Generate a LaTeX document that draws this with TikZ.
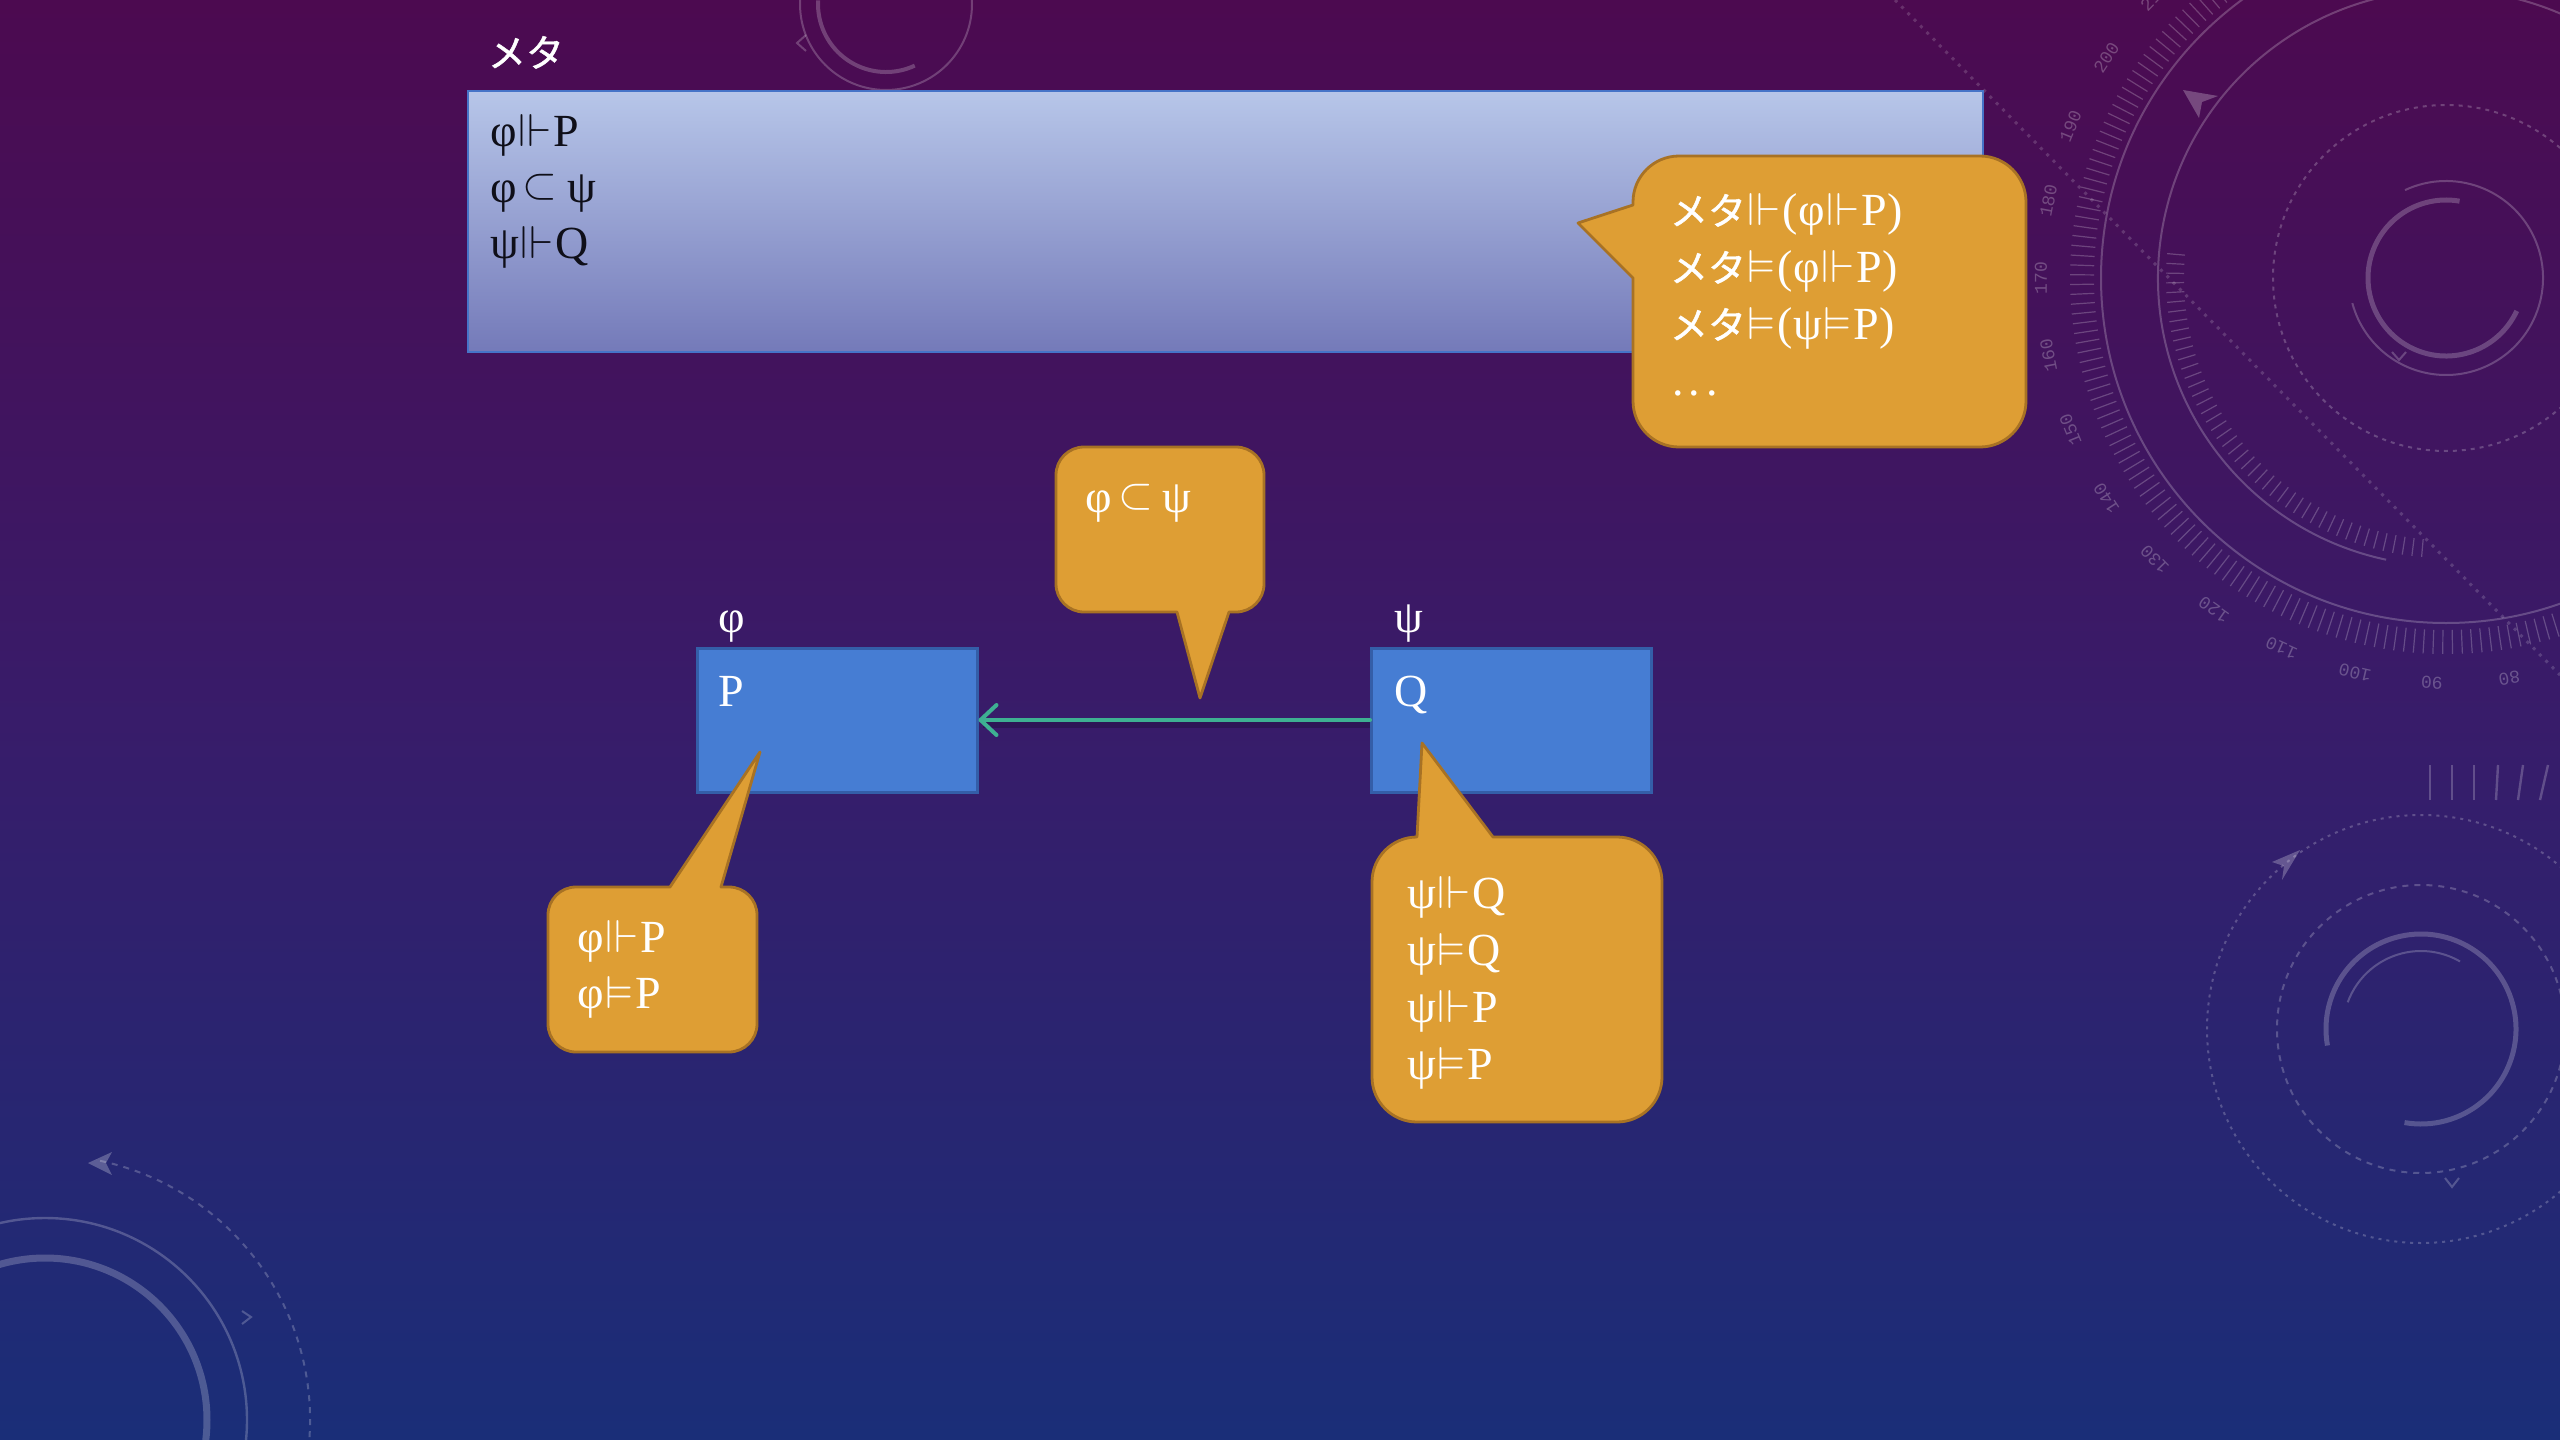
\documentclass[tikz,border=0pt]{standalone}
\usepackage{fontspec}
\usepackage{amssymb}
\usepackage{graphicx}
\setmainfont{Liberation Serif}
\newfontfamily\jpfont[FakeBold=1.2]{Noto Sans CJK JP}
\newfontfamily\dialfont{Liberation Mono}
\usetikzlibrary{arrows.meta}

\definecolor{bgtop}{RGB}{76,10,80}
\definecolor{bgmid}{RGB}{56,28,106}
\definecolor{bgbot}{RGB}{26,46,120}
\definecolor{metatop}{RGB}{183,198,233}
\definecolor{metabot}{RGB}{116,122,185}
\definecolor{metaedge}{RGB}{70,116,200}
\definecolor{metatext}{RGB}{15,15,25}
\definecolor{callfill}{RGB}{222,158,52}
\definecolor{calledge}{RGB}{168,114,36}
\definecolor{boxfill}{RGB}{70,125,211}
\definecolor{boxedge}{RGB}{52,94,168}
\definecolor{linkcol}{RGB}{62,176,146}

% forcing, semantic entailment and inclusion signs
\newcommand{\frc}{\kern0.04em\scalebox{1.0}{$\Vdash$}\kern0.04em}
\newcommand{\mdl}{\kern0.04em\scalebox{1.0}{$\vDash$}\kern0.04em}
\newcommand{\sbq}{\kern0.14em\raisebox{0.08em}{\scalebox{0.9}{$\subset$}}\kern0.2em}
\newcommand{\jpmeta}{{\jpfont\fontsize{19}{22}\selectfont メタ}}

\tikzset{
  txt/.style={inner sep=0pt, outer sep=0pt, anchor=base west, text=white,
              font=\fontsize{23}{28}\selectfont},
  callout/.style={fill=callfill, draw=calledge, line width=1.4pt, line join=round},
  bluebox/.style={draw=boxedge, fill=boxfill, line width=1.5pt,
                  minimum width=140pt, minimum height=72pt, inner sep=0pt},
  link/.style={draw=linkcol, line width=2pt, line cap=round,
               -{Straight Barb[length=8pt, width=15pt, round]}},
  deco/.style={draw=white, opacity=0.22, line width=1pt},
  decofill/.style={fill=white, opacity=0.25},
  dialnum/.style={text=white, text opacity=0.25, inner sep=0pt,
                  font=\dialfont\fontsize{9}{9}\selectfont},
}

\begin{document}
\begin{tikzpicture}[x=0.5pt, y=-0.5pt]
\useasboundingbox (0,0) rectangle (2560,1440);

% backdrop
\shade[top color=bgtop, bottom color=bgbot, middle color=bgmid] (0,0) rectangle (2560,1440);

% ornament at the top edge
\coordinate (ra) at (886,4);
\draw[deco] (ra) circle[radius=86];
\draw[deco, line width=2pt] ([shift={(65:68)}]ra) arc[start angle=65, end angle=183, radius=68];
\draw[deco] (806,35) -- (797,43) -- (806,51);

% dial in the upper right corner
\coordinate (rb) at (2446,278);
\draw[deco] (rb) circle[radius=345];
\draw[deco] ([shift={(102:288)}]rb) arc[start angle=102, end angle=410, radius=288];
\foreach \a in {56,57.5,...,244}
  \draw[deco, line width=0.6pt] ([shift={(\a:352)}]rb) -- ([shift={(\a:376)}]rb);
\foreach \a in {95,97,...,185}
  \draw[deco, line width=0.6pt] ([shift={(\a:262)}]rb) -- ([shift={(\a:280)}]rb);
\foreach \n in {70,80,...,210}{
  \pgfmathsetmacro{\sa}{1.1*\n-367}
  \pgfmathsetmacro{\rot}{277-1.1*\n}
  \node[dialnum, rotate=\rot] (dial\n) at ([shift={(\sa:405)}]rb) {\n};
}
\draw[deco, dash pattern=on 2pt off 2.5pt] (rb) circle[radius=173];
\draw[deco, line width=2.5pt] ([shift={(25:78)}]rb) arc[start angle=25, end angle=280, radius=78];
\draw[deco] ([shift={(245:97)}]rb) arc[start angle=245, end angle=525, radius=97];
\draw[deco] (2392,352) -- (2399,360) -- (2406,352);
\fill[decofill] (2183,90) -- (2218,96) -- (2202,102) -- (2199,118) -- cycle;
\draw[deco, opacity=0.16, line width=1.5pt, dash pattern=on 1.5pt off 3pt] (1895,0) -- (2560,675);

% tally strokes at the right edge
\foreach \x/\s in {2430/0,2452/0,2474/0,2496/2,2518/5,2540/8}
  \draw[deco, line width=1.2pt] (\x,800) -- (\x+\s,765);

% dial in the lower right corner
\coordinate (rc) at (2421,1029);
\draw[deco, line width=2.5pt] ([shift={(170:95)}]rc) arc[start angle=170, end angle=460, radius=95];
\draw[deco] ([shift={(200:78)}]rc) arc[start angle=200, end angle=300, radius=78];
\draw[deco, dashed] (rc) circle[radius=144];
\draw[deco, dash pattern=on 1.5pt off 2.5pt] (rc) circle[radius=214];
\fill[decofill] (2300,850) -- (2272,862) -- (2284,866) -- (2282,880) -- cycle;
\draw[deco] (2445,1178) -- (2452,1187) -- (2459,1178);

% dial in the lower left corner
\coordinate (rd) at (45,1420);
\draw[deco, line width=3.5pt] (rd) circle[radius=162];
\draw[deco, line width=1.2pt] (rd) circle[radius=202];
\draw[deco, dashed] ([shift={(282:265)}]rd) arc[start angle=282, end angle=400, radius=265];
\fill[decofill] (88,1163) -- (112,1152) -- (106,1163) -- (112,1175) -- cycle;
\draw[deco] (242,1311) -- (251,1317) -- (242,1324);

% the meta level box
\node[draw=metaedge, line width=1pt, top color=metatop, bottom color=metabot,
      minimum width=757.5pt, minimum height=130.5pt, inner sep=0pt] (meta) at (1225.5,221.5) {};
\node[txt, font=\jpfont\fontsize{19}{22}\selectfont] (title) at (488,67) {メタ};
\node[txt, text=metatext] (m1) at (490,146) {φ\frc P};
\node[txt, text=metatext] (m2) at (490,202) {φ\sbq ψ};
\node[txt, text=metatext] (m3) at (490,258) {ψ\frc Q};

% callout attached to the meta box
\path[callout] (1679,156) -- (1980,156) arc[start angle=270, end angle=360, radius=46]
  -- (2026,401) arc[start angle=0, end angle=90, radius=46]
  -- (1679,447) arc[start angle=90, end angle=180, radius=46]
  -- (1633,278) -- (1578,223) -- (1633,205) -- (1633,202)
  arc[start angle=180, end angle=270, radius=46] -- cycle;
\node[txt] (r1) at (1670,225) {\jpmeta\frc(φ\frc P)};
\node[txt] (r2) at (1670,282) {\jpmeta\mdl(φ\frc P)};
\node[txt] (r3) at (1670,339) {\jpmeta\mdl(ψ\mdl P)};
\node[txt] (r4) at (1672,395) {.\kern0.12em.\kern0.12em.};

% the two worlds and the link between them
\node[txt] (lphi) at (718,632) {φ};
\node[txt] (lpsi) at (1394,632) {ψ};
\node[bluebox] (pbox) at (837,720) {};
\node[bluebox] (qbox) at (1511.5,720) {};
\node[txt] (ptext) at (718,706) {P};
\node[txt] (qtext) at (1394,706) {Q};
\draw[line width=3pt, black, opacity=0.18] ([yshift=-2.5pt]qbox.west) -- ([xshift=2pt,yshift=-2.5pt]pbox.east);
\draw[link] (qbox.west) -- (pbox.east);

% callout over the link
\path[callout] (1084,447) -- (1236,447) arc[start angle=270, end angle=360, radius=28]
  -- (1264,584) arc[start angle=0, end angle=90, radius=28]
  -- (1229,612) -- (1200,698) -- (1177,612)
  -- (1084,612) arc[start angle=90, end angle=180, radius=28]
  -- (1056,475) arc[start angle=180, end angle=270, radius=28] -- cycle;
\node[txt] (c1) at (1085,512) {φ\sbq ψ};

% callout from P
\path[callout] (576,887) -- (670,887) -- (760,752) -- (721,887)
  -- (729,887) arc[start angle=270, end angle=360, radius=28]
  -- (757,1024) arc[start angle=0, end angle=90, radius=28]
  -- (576,1052) arc[start angle=90, end angle=180, radius=28]
  -- (548,915) arc[start angle=180, end angle=270, radius=28] -- cycle;
\node[txt] (p1) at (577,952) {φ\frc P};
\node[txt] (p2) at (577,1008) {φ\mdl P};

% callout from Q
\path[callout] (1417,837) -- (1422,743) -- (1493,837)
  -- (1617,837) arc[start angle=270, end angle=360, radius=45]
  -- (1662,1077) arc[start angle=0, end angle=90, radius=45]
  -- (1417,1122) arc[start angle=90, end angle=180, radius=45]
  -- (1372,882) arc[start angle=180, end angle=270, radius=45] -- cycle;
\node[txt] (q1) at (1407,908) {ψ\frc Q};
\node[txt] (q2) at (1407,965) {ψ\mdl Q};
\node[txt] (q3) at (1407,1022) {ψ\frc P};
\node[txt] (q4) at (1407,1079) {ψ\mdl P};
\end{tikzpicture}
\end{document}
